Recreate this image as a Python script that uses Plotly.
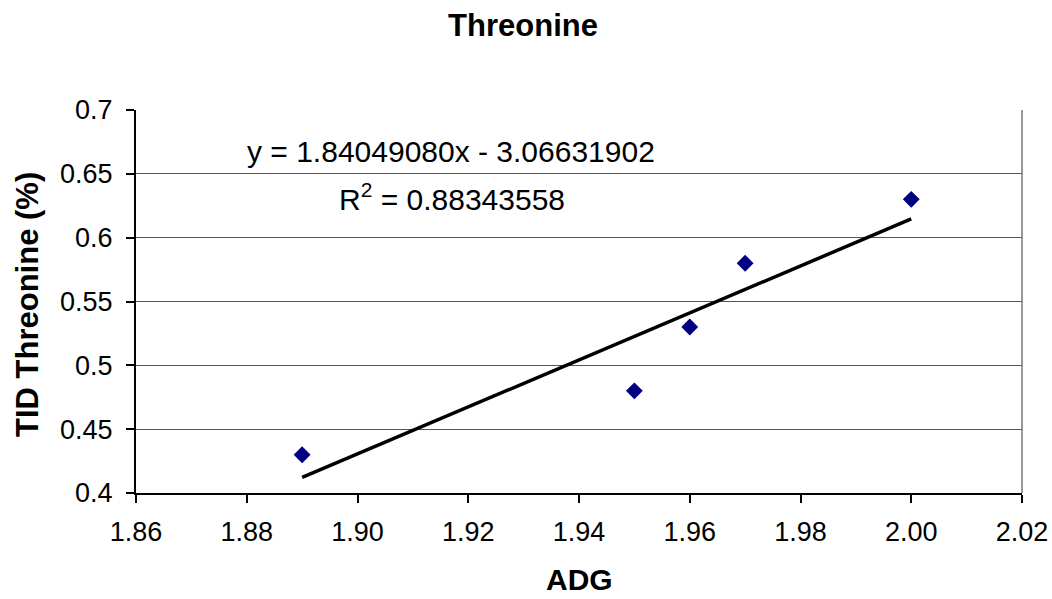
import numpy as np
import plotly.graph_objects as go

adg = [1.89, 1.95, 1.96, 1.97, 2.00]
tid_thr = [0.43, 0.48, 0.53, 0.58, 0.63]
x_ticks = [1.86, 1.88, 1.90, 1.92, 1.94, 1.96, 1.98, 2.00, 2.02]
y_ticks = [0.4, 0.45, 0.5, 0.55, 0.6, 0.65, 0.7]

slope, intercept = np.polyfit(adg, tid_thr, 1)
pred = np.polyval([slope, intercept], adg)
ss_res = np.sum((np.array(tid_thr) - pred) ** 2)
ss_tot = np.sum((np.array(tid_thr) - np.mean(tid_thr)) ** 2)
r2 = 1 - ss_res / ss_tot
xl = [min(adg), max(adg)]
yl = [slope * v + intercept for v in xl]

W, H = 1052, 599
L, R, T, B = 136, 30, 110, 106
PW, PH = W - L - R, H - T - B

def px(x):
    return (x - L) / PW

def py(y):
    return (H - B - y) / PH

fig = go.Figure()
fig.add_trace(go.Scatter(x=xl, y=yl, mode="lines",
                         line=dict(color="black", width=3.5), showlegend=False))
fig.add_trace(go.Scatter(x=adg, y=tid_thr, mode="markers",
                         marker=dict(symbol="diamond", color="#000080", size=13),
                         showlegend=False))

font = "Liberation Sans, Arial, sans-serif"
fig.update_layout(
    width=W, height=H,
    margin=dict(l=L, r=R, t=T, b=B, autoexpand=False),
    paper_bgcolor="white", plot_bgcolor="white",
    font=dict(family=font, size=27, color="black"),
    title=dict(text="<b>Threonine</b>", x=523 / W, xanchor="center",
               y=1 - 25 / H, yanchor="middle",
               font=dict(size=31, family=font)),
    xaxis=dict(range=[1.86, 2.02], tickvals=x_ticks,
               ticktext=[f"{v:.2f}" for v in x_ticks], automargin=False,
               showgrid=False, zeroline=False, showline=True, linecolor="black", linewidth=2,
               ticks="outside", ticklen=8, tickcolor="black", tickwidth=1.5,
               tickfont=dict(size=27), ticklabelstandoff=6),
    yaxis=dict(range=[0.4, 0.7], tickvals=y_ticks,
               ticktext=[f"{v:g}" for v in y_ticks], automargin=False,
               showgrid=True, gridcolor="#555555", gridwidth=1,
               zeroline=False, showline=True, linecolor="black", linewidth=2,
               ticks="outside", ticklen=8, tickcolor="black", tickwidth=1.5,
               tickfont=dict(size=27), ticklabelstandoff=8),
    shapes=[dict(type="line", xref="paper", yref="paper", x0=1, x1=1, y0=0, y1=1,
                 line=dict(color="#777777", width=1.5))],
    annotations=[
        dict(text=f"y = {slope:.8f}x - {abs(intercept):.8f}", xref="paper", yref="paper",
             x=px(451), y=py(151), showarrow=False,
             font=dict(size=30), xanchor="center", yanchor="middle"),
        dict(text=f"R<sup>2</sup> = {r2:.8f}", xref="paper", yref="paper",
             x=px(452), y=py(197), showarrow=False,
             font=dict(size=30), xanchor="center", yanchor="middle"),
        dict(text="<b>ADG</b>", xref="paper", yref="paper",
             x=px(579), y=py(579), showarrow=False, borderpad=0,
             font=dict(size=30), xanchor="center", yanchor="middle"),
        dict(text="<b>TID Threonine (%)</b>", xref="paper", yref="paper",
             x=px(27), y=py(305), showarrow=False, textangle=-90,
             font=dict(size=31), xanchor="center", yanchor="middle"),
    ],
)

fig.write_html("out.html", config={"displayModeBar": False},
               post_script="document.body.style.margin='0';")
